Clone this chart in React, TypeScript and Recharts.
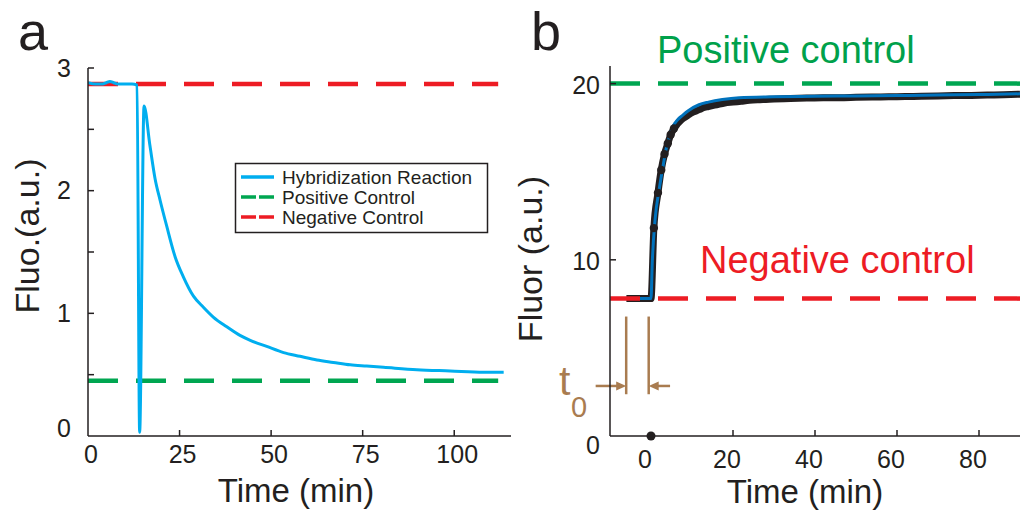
import React from 'react';
import { LineChart, Line, XAxis, YAxis, ReferenceLine, ReferenceDot } from 'recharts';

const FONT = '"Liberation Sans", Arial, Helvetica, sans-serif';
const INK = '#231f20';
const CYAN = '#00aeef';
const GREEN = '#00a651';
const RED = '#ed1c24';
const BLUE = '#0072bc';
const BROWN = '#a97c50';

// panel a: hybridization reaction
const timeA = [0, 2, 4, 5, 6, 7, 8, 10, 12, 13.4, 14.1, 15.3, 16.9, 18.3, 19.7, 21.5, 23.8, 26.0, 28.8, 31.5, 34.2, 37.9, 41.5, 44.3, 48.8, 53.4, 57.9, 62.5, 67, 71.6, 76.1, 80.7, 89.8, 98.9, 108, 113.5];
const fluoA = [2.88, 2.87, 2.87, 2.88, 2.89, 2.88, 2.87, 2.87, 2.87, 2.86, 0.03, 2.69, 2.37, 2.1, 1.92, 1.71, 1.46, 1.3, 1.14, 1.05, 0.97, 0.89, 0.82, 0.78, 0.73, 0.68, 0.65, 0.62, 0.6, 0.58, 0.57, 0.56, 0.54, 0.53, 0.52, 0.52];
const positiveA = 0.45;
const negativeA = 2.87;
const ctrlSpanA = [0, 112];
const xTicksA = [0, 25, 50, 75, 100];
const yTicksA = [0, 0.5, 1, 1.5, 2, 2.5, 3];

// panel b: measured data + fit
const timeB = [-6, -5, -4, -3, -2, -1, 0, 0.7, 1.7, 2.5, 3.3, 4.1, 4.8, 5.6, 6.4, 7.2, 8, 9, 10, 11, 12, 13, 14, 15, 16, 18, 20, 22, 24, 26, 28, 30, 34, 38, 42, 46, 50, 54, 58, 62, 66, 70, 74, 78, 82, 86, 90];
const fluorB = [7.8, 7.8, 7.8, 7.8, 7.8, 7.8, 7.8, 11.8, 13.8, 15.1, 16.0, 16.6, 17.1, 17.45, 17.7, 17.9, 18.05, 18.2, 18.35, 18.45, 18.55, 18.65, 18.7, 18.75, 18.8, 18.9, 18.95, 19.0, 19.05, 19.08, 19.1, 19.12, 19.15, 19.18, 19.2, 19.2, 19.22, 19.24, 19.25, 19.27, 19.28, 19.3, 19.32, 19.33, 19.35, 19.37, 19.4];
const fitTimeB = [-6, 0, 0.3, 1, 2, 3, 3.6, 4.4, 5.2, 6.5, 7.7, 9, 11.7, 14, 17.4, 21.5, 30, 40, 50, 60, 70, 80, 90];
const fitB = [7.8, 7.8, 9.8, 12.3, 14.0, 15.4, 16.2, 16.9, 17.5, 17.95, 18.2, 18.45, 18.8, 18.95, 19.1, 19.2, 19.25, 19.28, 19.3, 19.32, 19.35, 19.38, 19.42];
const positiveB = 20;
const negativeB = 7.8;
const ctrlSpanB = [-10, 90];
const xTicksB = [0, 20, 40, 60, 80];
const yTicksB = [0, 10, 20];

const seriesA = timeA.map((t, i) => ({ t, v: fluoA[i] }));
const dataB = timeB.map((t, i) => ({ t, v: fluorB[i] }));
const fitDataB = fitTimeB.map((t, i) => ({ t, v: fitB[i] }));
const flat = (span: number[], v: number) => span.map((t) => ({ t, v }));

const DASH = '30 18';

const yTick = (gap: number, labelled: (v: number) => boolean, drawLine: (v: number) => boolean, dyOf: (v: number) => number) =>
  (props: any) => {
    const { x, y, payload } = props;
    const v = payload.value;
    return (
      <g>
        {drawLine(v) && <line x1={x} y1={y} x2={x + 6} y2={y} stroke={INK} strokeWidth={1.5} />}
        {labelled(v) && (
          <text x={x - gap} y={y + 8.5 + dyOf(v)} textAnchor="end" fontSize={25} fill={INK} fontFamily={FONT}>{v}</text>
        )}
      </g>
    );
  };

const xTick = (baseline: number, dx: number, drawLine: (v: number) => boolean) =>
  (props: any) => {
    const { x, y, payload } = props;
    const v = payload.value;
    return (
      <g>
        {drawLine(v) && <line x1={x} y1={y} x2={x} y2={y - 6} stroke={INK} strokeWidth={1.5} />}
        <text x={x + dx} y={y + baseline} textAnchor="middle" fontSize={25} fill={INK} fontFamily={FONT}>{v}</text>
      </g>
    );
  };

// only the sparse samples on the rising edge stand out as separate dots
const dataDot = (props: any) => {
  const { cx, cy, index } = props;
  if (index < 7 || index > 13) return <g key={`d${index}`} />;
  return <circle key={`d${index}`} cx={cx} cy={cy} r={4.2} fill={INK} />;
};

const arrowShape = (props: any) => {
  const { x1, y1, x2, y2 } = props;
  const s = x2 > x1 ? 1 : -1;
  return (
    <g>
      <line x1={x1} y1={y1} x2={x2 - s * 5} y2={y2} stroke={BROWN} strokeWidth={2.5} />
      <polygon points={`${x2},${y2} ${x2 - s * 10},${y2 - 4.5} ${x2 - s * 10},${y2 + 4.5}`} fill={BROWN} />
    </g>
  );
};

const PanelA = () => (
  <LineChart width={520} height={514} margin={{ top: 68, right: 9, left: 28, bottom: 38 }}>
    <XAxis
      type="number" dataKey="t" domain={[0, 115.5]} ticks={xTicksA} interval={0} allowDataOverflow
      axisLine={{ stroke: INK, strokeWidth: 1.5 }} tickLine={false} tickSize={0} tickMargin={0} height={40}
      tick={xTick(27, 3, (v) => v !== 0)}
    />
    <YAxis
      type="number" dataKey="v" domain={[0, 3]} ticks={yTicksA} interval={0} allowDataOverflow
      axisLine={{ stroke: INK, strokeWidth: 1.5 }} tickLine={false} tickSize={0} tickMargin={0} width={60}
      tick={yTick(17, (v) => Number.isInteger(v), (v) => v !== 0, (v) => (v === 0 ? -8 : 0))}
    />
    <Line data={flat(ctrlSpanA, negativeA)} dataKey="v" stroke={RED} strokeWidth={4.5} strokeDasharray={DASH} dot={false} isAnimationActive={false} />
    <Line data={flat(ctrlSpanA, positiveA)} dataKey="v" stroke={GREEN} strokeWidth={4.5} strokeDasharray={DASH} dot={false} isAnimationActive={false} />
    <Line data={seriesA} dataKey="v" type="monotone" stroke={CYAN} strokeWidth={3} dot={false} isAnimationActive={false} />
  </LineChart>
);

const PanelB = () => (
  <LineChart width={523} height={514} margin={{ top: 66, right: 3, left: 50, bottom: 38 }}>
    <XAxis
      type="number" dataKey="t" domain={[-10, 90]} ticks={xTicksB} interval={0} allowDataOverflow
      axisLine={{ stroke: INK, strokeWidth: 1.5 }} tickLine={false} tickSize={0} tickMargin={0} height={40}
      tick={xTick(32, -6, (v) => v !== 0)}
    />
    <YAxis
      type="number" dataKey="v" domain={[0, 21]} ticks={yTicksB} interval={0} allowDataOverflow
      axisLine={{ stroke: INK, strokeWidth: 1.5 }} tickLine={false} tickSize={0} tickMargin={0} width={60}
      tick={yTick(10, () => true, (v) => v !== 0, (v) => (v === 0 ? 9 : 2))}
    />
    <Line data={dataB} dataKey="v" type="monotone" stroke={INK} strokeWidth={7} dot={dataDot} isAnimationActive={false} />
    <Line data={fitDataB} dataKey="v" type="monotone" stroke={BLUE} strokeWidth={3} dot={false} isAnimationActive={false} />
    <Line data={flat(ctrlSpanB, positiveB)} dataKey="v" stroke={GREEN} strokeWidth={4.5} strokeDasharray={DASH} dot={false} isAnimationActive={false} />
    <Line data={flat(ctrlSpanB, negativeB)} dataKey="v" stroke={RED} strokeWidth={4.5} strokeDasharray={DASH} dot={false} isAnimationActive={false} />
    <ReferenceLine segment={[{ x: -6.05, y: 2.37 }, { x: -6.05, y: 6.78 }]} stroke={BROWN} strokeWidth={2.5} ifOverflow="visible" />
    <ReferenceLine segment={[{ x: -0.56, y: 2.37 }, { x: -0.56, y: 6.78 }]} stroke={BROWN} strokeWidth={2.5} ifOverflow="visible" />
    <ReferenceLine segment={[{ x: -13.5, y: 2.84 }, { x: -6.05, y: 2.84 }]} ifOverflow="visible" shape={arrowShape} />
    <ReferenceLine segment={[{ x: 4.65, y: 2.84 }, { x: -0.56, y: 2.84 }]} ifOverflow="visible" shape={arrowShape} />
    <ReferenceDot x={0} y={0} r={4.5} fill={INK} stroke="none" ifOverflow="visible" />
  </LineChart>
);

const legendRows = [
  { label: 'Hybridization Reaction', color: CYAN, dash: undefined as string | undefined },
  { label: 'Positive Control', color: GREEN, dash: '15 3' },
  { label: 'Negative Control', color: RED, dash: '15 3' },
];

const Overlay = () => (
  <svg width={1023} height={514} style={{ position: 'absolute', left: 0, top: 0, pointerEvents: 'none' }} fontFamily={FONT}>
    <text x={18} y={50} fontSize={54} fill={INK}>a</text>
    <text x={531} y={50} fontSize={54} fill={INK}>b</text>
    <text transform="translate(39,236) rotate(-90)" textAnchor="middle" fontSize={34} fill={INK}>Fluo.(a.u.)</text>
    <text transform="translate(542,259) rotate(-90)" textAnchor="middle" fontSize={34} fill={INK}>Fluor (a.u.)</text>
    <text x={296} y={502} textAnchor="middle" fontSize={33} fill={INK}>Time (min)</text>
    <text x={805} y={503} textAnchor="middle" fontSize={33} fill={INK}>Time (min)</text>
    <text x={657} y={63} fontSize={38} fill="#00a14b">Positive control</text>
    <text x={700} y={273} fontSize={38} fill={RED}>Negative control</text>
    <text x={559} y={395} fontSize={41} fill={BROWN}>t</text>
    <text x={571} y={417} fontSize={29} fill={BROWN}>0</text>
    <rect x={235.5} y={163.5} width={252} height={69} fill="#fff" stroke={INK} strokeWidth={1.5} />
    {legendRows.map((r, i) => (
      <g key={r.label}>
        <line x1={241} y1={177 + i * 20} x2={274} y2={177 + i * 20} stroke={r.color} strokeWidth={3.5} strokeDasharray={r.dash} />
        <text x={282} y={177 + i * 20 + 6.5} fontSize={19} fill={INK}>{r.label}</text>
      </g>
    ))}
  </svg>
);

export default function App() {
  return (
    <div style={{ position: 'absolute', left: 0, top: 0, width: 1023, height: 514, background: '#fff', fontFamily: FONT }}>
      <div style={{ position: 'absolute', left: 0, top: 0 }}>
        <PanelA />
      </div>
      <div style={{ position: 'absolute', left: 500, top: 0 }}>
        <PanelB />
      </div>
      <Overlay />
    </div>
  );
}
